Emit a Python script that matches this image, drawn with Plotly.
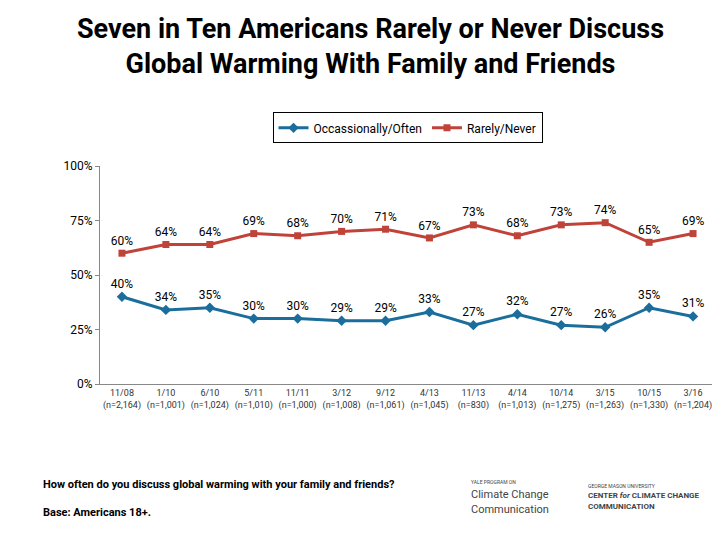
import plotly.graph_objects as go

# Survey waves
waves = ["11/08", "1/10", "6/10", "5/11", "11/11", "3/12", "9/12",
         "4/13", "11/13", "4/14", "10/14", "3/15", "10/15", "3/16"]
sample_sizes = ["2,164", "1,001", "1,024", "1,010", "1,000", "1,008", "1,061",
                "1,045", "830", "1,013", "1,275", "1,263", "1,330", "1,204"]
often = [40, 34, 35, 30, 30, 29, 29, 33, 27, 32, 27, 26, 35, 31]
rarely = [60, 64, 64, 69, 68, 70, 71, 67, 73, 68, 73, 74, 65, 69]

tick_text = [f"{w}<br>(n={n})" for w, n in zip(waves, sample_sizes)]
x = list(range(len(waves)))

blue = "#1B6E9C"
red = "#C0433A"

fig = go.Figure()
fig.add_trace(go.Scatter(
    x=x, y=often, name="Occassionally/Often", mode="lines+markers+text",
    line=dict(color=blue, width=3), marker=dict(symbol="diamond", size=8, color=blue),
    text=[f"{v}%" for v in often], textposition="top center",
    textfont=dict(size=12, color="black"),
))
fig.add_trace(go.Scatter(
    x=x, y=rarely, name="Rarely/Never", mode="lines+markers+text",
    line=dict(color=red, width=3), marker=dict(symbol="square", size=7, color=red),
    text=[f"{v}%" for v in rarely], textposition="top center",
    textfont=dict(size=12, color="black"),
))

fig.update_layout(
    width=720, height=540,
    paper_bgcolor="white", plot_bgcolor="white",
    font=dict(family="Roboto, Arial, sans-serif", color="black"),
    margin=dict(l=92, r=13, t=158, b=164),
    showlegend=True,
    legend=dict(
        orientation="h", x=0.5, xanchor="center", y=1.175, yanchor="middle",
        bordercolor="black", borderwidth=1, font=dict(size=12),
    ),
    xaxis=dict(
        tickvals=x, ticktext=tick_text, range=[-0.5, len(waves) - 0.5],
        showgrid=False, zeroline=False, showline=True, linecolor="#888",
        ticks="outside", ticklen=0, tickfont=dict(size=9, color="#333"),
    ),
    yaxis=dict(
        range=[0, 100], tickvals=[0, 25, 50, 75, 100],
        ticktext=["0%", "25%", "50%", "75%", "100%"],
        showgrid=False, zeroline=False, showline=True, linecolor="#888",
        ticks="outside", ticklen=4, tickcolor="#888", tickfont=dict(size=12),
    ),
)

fig.add_annotation(
    text="<b>Seven in Ten Americans Rarely or Never Discuss<br>Global Warming With Family and Friends</b>",
    xref="paper", yref="paper", x=0.44, y=1.71, xanchor="center", yanchor="top",
    showarrow=False, font=dict(size=27),
)
fig.add_annotation(
    text="<b>How often do you discuss global warming with your family and friends?</b>",
    xref="paper", yref="paper", x=-0.096, y=-0.463, xanchor="left", yanchor="middle",
    showarrow=False, font=dict(size=11),
)
fig.add_annotation(
    text="<b>Base: Americans 18+.</b>",
    xref="paper", yref="paper", x=-0.096, y=-0.59, xanchor="left", yanchor="middle",
    showarrow=False, font=dict(size=11),
)
fig.add_annotation(
    text="<span style='font-size:5px'>YALE PROGRAM ON</span><br>Climate Change<br>Communication",
    xref="paper", yref="paper", x=0.60, y=-0.52, xanchor="left", yanchor="middle",
    showarrow=False, align="left", font=dict(size=11, color="#444"),
)
fig.add_annotation(
    text="<span style='font-size:5px'>GEORGE MASON UNIVERSITY</span><br><b>CENTER <i>for</i> CLIMATE CHANGE<br>COMMUNICATION</b>",
    xref="paper", yref="paper", x=0.79, y=-0.52, xanchor="left", yanchor="middle",
    showarrow=False, align="left", font=dict(size=8, color="#444"),
)

fig.write_html("out.html")
